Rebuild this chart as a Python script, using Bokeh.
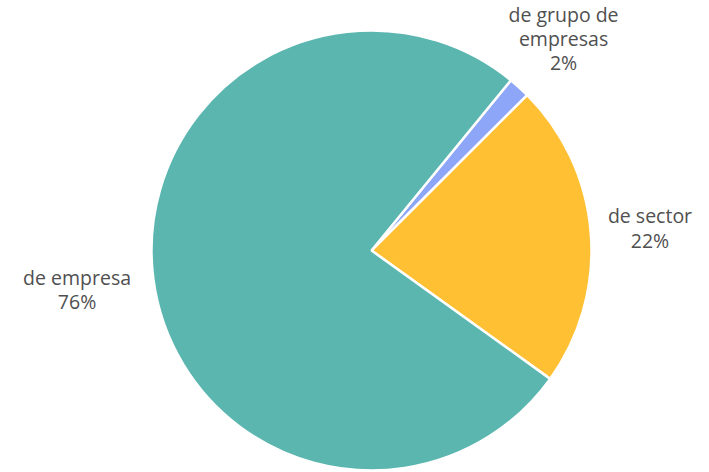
import math
from bokeh.plotting import figure
from bokeh.models import ColumnDataSource
from bokeh.core.properties import value
from bokeh.embed import file_html
from bokeh.resources import INLINE

# data (clockwise order, starting at the teal/blue boundary)
categories = ["de grupo de\nempresas", "de sector", "de empresa"]
shares = [1.6, 22.4, 76.0]
labels_pct = ["2%", "22%", "76%"]
colors = ["#8ea6f7", "#ffc033", "#5bb6b0"]

W, H = 709, 472
cx, cy, R = 371, 222, 220
start_cw = 39.3          # degrees clockwise from 12 o'clock
label_dist = [1.30, 1.27, 1.35]

total = sum(shares)
starts, ends, lx, ly, texts = [], [], [], [], []
acc = start_cw
for i, s in enumerate(shares):
    a0 = acc
    a1 = acc + s / total * 360.0
    acc = a1
    starts.append(math.radians(90 - a1))
    ends.append(math.radians(90 - a0))
    mid = math.radians(90 - (a0 + a1) / 2)
    lx.append(cx + label_dist[i] * R * math.cos(mid))
    ly.append(cy + label_dist[i] * R * math.sin(mid))
    texts.append(categories[i] + "\n" + labels_pct[i])

src = ColumnDataSource(dict(start=starts, end=ends, color=colors,
                            lx=lx, ly=ly, text=texts))

p = figure(width=W, height=H, x_range=(0, W), y_range=(0, H),
           output_backend="svg", toolbar_location=None, min_border=0)
p.axis.visible = False
p.grid.visible = False
p.outline_line_color = None
p.background_fill_color = "white"

p.wedge(x=cx, y=cy, radius=R, start_angle="start", end_angle="end",
        direction="anticlock", fill_color="color", line_color="white",
        line_width=2.5, source=src)

p.text(x="lx", y="ly", text="text", source=src, text_align="center",
       text_baseline="middle", text_font=value("Open Sans"),
       text_font_size="19.5px", text_color="#505050", text_line_height=0.9)

open("out.html", "w").write(file_html(p, INLINE))
